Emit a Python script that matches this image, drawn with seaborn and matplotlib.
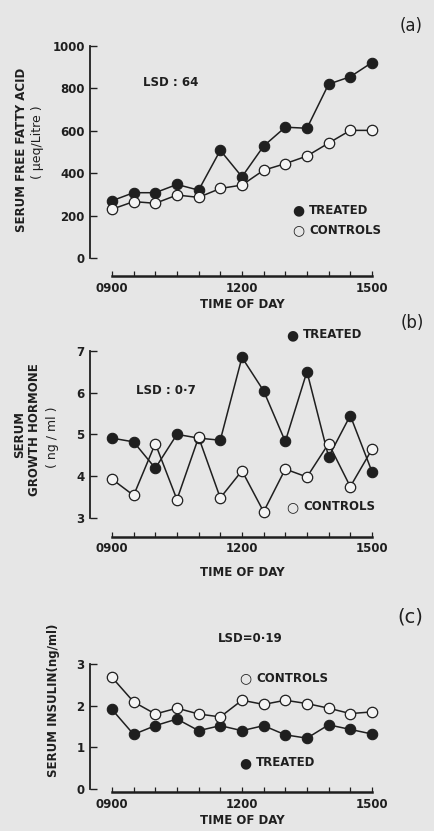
import numpy as np
import pandas as pd
import matplotlib
matplotlib.use("Agg")
import matplotlib.pyplot as plt
import seaborn as sns

# ---------------- data ----------------
hours = [9.0, 9.5, 10.0, 10.5, 11.0, 11.5, 12.0, 12.5, 13.0, 13.5, 14.0, 14.5, 15.0]
xtick_text = ["0900", "", "", "", "", "", "1200", "", "", "", "", "", "1500"]

ffa_treated = [270, 308, 308, 347, 320, 508, 383, 528, 617, 612, 820, 855, 922]
ffa_controls = [230, 266, 258, 297, 286, 328, 344, 414, 445, 481, 542, 602, 602]

gh_treated = [4.91, 4.82, 4.19, 5.00, 4.91, 4.86, 6.84, 6.04, 4.83, 6.50, 4.46, 5.45, 4.11]
gh_controls = [3.93, 3.54, 4.78, 3.44, 4.93, 3.48, 4.13, 3.15, 4.17, 3.98, 4.78, 3.75, 4.64]

ins_treated = [1.91, 1.31, 1.52, 1.68, 1.40, 1.52, 1.40, 1.52, 1.30, 1.22, 1.54, 1.43, 1.32]
ins_controls = [2.68, 2.09, 1.80, 1.94, 1.80, 1.73, 2.13, 2.03, 2.13, 2.05, 1.94, 1.81, 1.85]

ffa_yticks = [0, 200, 400, 600, 800, 1000]
gh_yticks = [3, 4, 5, 6, 7]
ins_yticks = [0, 1, 2, 3]

# ---------------- style ----------------
sns.set_style("white")
plt.rcParams["font.family"] = ["DejaVu Sans"]
INK = "#1f1f1f"
BG = "#e6e6e6"
W, H = 435, 831

fig = plt.figure(figsize=(W / 100, H / 100), dpi=100, facecolor=BG)


def fx(x):
    return x / W


def fy(y):
    return 1 - y / H


def make_axes(top_px, bottom_px):
    left_px = 90.3
    width_px = 6.6 * 43.33
    ax = fig.add_axes([fx(left_px), fy(bottom_px), width_px / W, (bottom_px - top_px) / H])
    ax.set_facecolor("none")
    return ax


def draw(ax, treated, controls):
    df = pd.DataFrame({"hour": hours * 2,
                       "value": list(treated) + list(controls),
                       "group": ["TREATED"] * len(hours) + ["CONTROLS"] * len(hours)})
    sns.lineplot(data=df[df.group == "TREATED"], x="hour", y="value", ax=ax,
                 color=INK, lw=1.1, marker="o", markersize=7.5,
                 markerfacecolor=INK, markeredgecolor=INK, markeredgewidth=0.8,
                 clip_on=False, zorder=3, legend=False)
    sns.lineplot(data=df[df.group == "CONTROLS"], x="hour", y="value", ax=ax,
                 color=INK, lw=1.1, marker="o", markersize=7.5,
                 markerfacecolor="#f4f4f4", markeredgecolor=INK, markeredgewidth=0.9,
                 clip_on=False, zorder=4, legend=False)


def style(ax, ylim, yticks, offset_px, minor=None):
    ax.set_xlim(8.5, 15.1)
    ax.set_ylim(*ylim)
    ax.set_xlabel("")
    ax.set_ylabel("")
    for s in ["top", "right"]:
        ax.spines[s].set_visible(False)
    ax.spines["left"].set_bounds(ylim[0], ylim[1])
    ax.spines["left"].set_linewidth(1.3)
    ax.spines["left"].set_color(INK)
    ax.spines["bottom"].set_position(("outward", offset_px * 0.72))
    ax.spines["bottom"].set_bounds(9, 15)
    ax.spines["bottom"].set_linewidth(1.8)
    ax.spines["bottom"].set_color(INK)
    ax.set_xticks(hours)
    ax.set_xticklabels(xtick_text)
    ax.set_yticks(yticks)
    ax.set_yticklabels([str(t) for t in yticks])
    if minor is not None:
        ax.set_yticks(minor, minor=True)
    ax.tick_params(axis="x", direction="in", length=3.5, width=0.9, color=INK,
                   labelsize=8.5, pad=4, labelcolor=INK)
    ax.tick_params(axis="y", which="major", direction="in", length=5, width=1.0,
                   color=INK, labelsize=8.5, pad=4, labelcolor=INK)
    ax.tick_params(axis="y", which="minor", direction="in", length=3, width=0.9,
                   color=INK)
    ax.tick_params(left=True, bottom=True)
    for lab in ax.get_xticklabels() + ax.get_yticklabels():
        lab.set_fontweight("bold")


def txt(x, y, s, size=8.5, weight="bold", rot=0, ha="center", va="center"):
    fig.text(fx(x), fy(y), s, fontsize=size, fontweight=weight, rotation=rot,
             ha=ha, va=va, color=INK)


def legend_item(x, y, label, filled):
    sym = "\u25cf" if filled else "\u25cb"
    txt(x, y, sym, size=10, weight="normal", ha="center")
    txt(x + 11, y, label, size=8.5, ha="left")


# ---------------- panel (a) ----------------
axa = make_axes(46, 258)
draw(axa, ffa_treated, ffa_controls)
style(axa, (0, 1000), ffa_yticks, 18, minor=[100, 300, 500, 700, 900])
txt(22, 150, "SERUM FREE FATTY ACID", rot=90)
txt(38, 142, "( \u03bceq/Litre )", rot=90, weight="normal", size=9)
txt(171, 83, "LSD : 64")
txt(411, 26, "(a)", size=12, weight="normal")
legend_item(298, 210, "TREATED", True)
legend_item(298, 230, "CONTROLS", False)
txt(242, 305, "TIME OF DAY")

# ---------------- panel (b) ----------------
axb = make_axes(350.7, 518)
draw(axb, gh_treated, gh_controls)
style(axb, (3, 7), gh_yticks, 18.5)
txt(20, 434, "SERUM", rot=90)
txt(35, 430, "GROWTH HORMONE", rot=90)
txt(53, 437, "( ng / ml )", rot=90, weight="normal", size=9)
txt(166, 390, "LSD : 0\u00b77")
txt(412, 323, "(b)", size=12, weight="normal")
legend_item(292, 335, "TREATED", True)
legend_item(292, 507, "CONTROLS", False)
txt(242, 572, "TIME OF DAY")

# ---------------- panel (c) ----------------
axc = make_axes(664, 789)
draw(axc, ins_treated, ins_controls)
style(axc, (0, 3), ins_yticks, 3)
txt(54, 700, "SERUM INSULIN(ng/ml)", rot=90)
txt(250, 638, "LSD=0\u00b719")
txt(410, 617, "(c)", size=14, weight="normal")
legend_item(245, 678, "CONTROLS", False)
legend_item(245, 763, "TREATED", True)
txt(242, 821, "TIME OF DAY")

fig.savefig("out.png", dpi=100, facecolor=BG)
